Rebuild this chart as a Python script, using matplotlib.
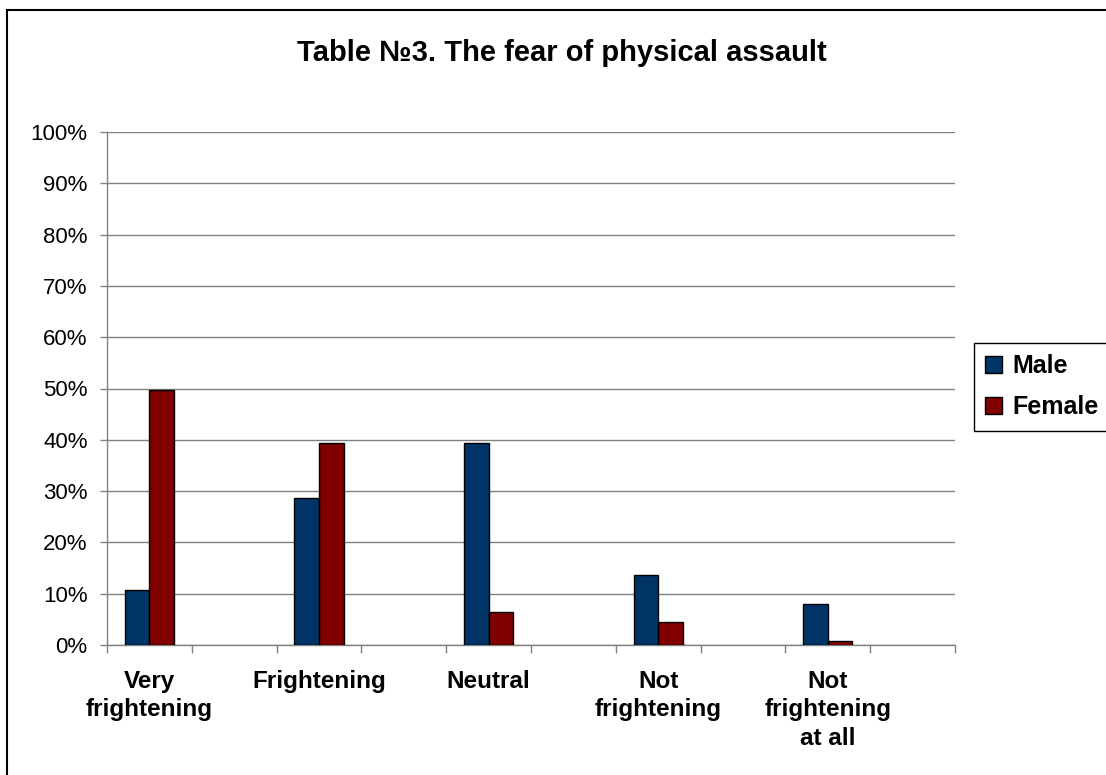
import matplotlib
matplotlib.use("Agg")
import matplotlib.pyplot as plt
import matplotlib.patches as mpatches
import numpy as np

plt.rcParams['font.family'] = ['Liberation Sans', 'DejaVu Sans']

categories = ["Very\nfrightening", "Frightening", "Neutral",
              "Not\nfrightening", "Not\nfrightening\nat all"]
male = [10.8, 28.7, 39.4, 13.7, 8.0]
female = [49.7, 39.4, 6.5, 4.4, 0.8]
yticks = np.arange(0, 101, 10)

male_color = "#003366"
female_color = "#800000"
grid_color = "#808080"

fig = plt.figure(figsize=(11.06, 7.75), dpi=100)
ax = fig.add_axes([107 / 1106, 130 / 775, 848 / 1106, 513 / 775])

# every category sits in every other slot of a 10-slot axis
pos = np.arange(len(categories)) * 2 + 0.5
w = 0.29
ax.bar(pos - w / 2, male, w, color=male_color, edgecolor="black", linewidth=1, zorder=3)
ax.bar(pos + w / 2, female, w, color=female_color, edgecolor="black", linewidth=1, zorder=3)

ax.set_xlim(0, 10)
ax.set_ylim(0, 100)
ax.set_yticks(yticks)
ax.set_yticklabels([f"{v}%" for v in yticks], fontsize=16)
ax.yaxis.grid(True, color=grid_color, linewidth=1)
ax.set_axisbelow(True)

ax.set_xticks(np.arange(0, 11))
ax.set_xticklabels([])
ax.set_xticks(pos, minor=True)
ax.set_xticklabels(categories, minor=True, fontsize=17.5, fontweight="bold", linespacing=1.3)
ax.tick_params(axis="x", which="minor", length=0, pad=18)
ax.tick_params(axis="x", which="major", length=6, color=grid_color, width=1)
ax.tick_params(axis="y", length=5, color=grid_color, width=1, pad=9)

for s in ["top", "right"]:
    ax.spines[s].set_visible(False)
for s in ["left", "bottom"]:
    ax.spines[s].set_color(grid_color)
    ax.spines[s].set_linewidth(1)

fig.text(562 / 1106, 1 - 53 / 775, "Table №3. The fear of physical assault",
         ha="center", va="center", fontsize=21, fontweight="bold")

handles = [mpatches.Patch(facecolor=male_color, edgecolor="black", label="Male"),
           mpatches.Patch(facecolor=female_color, edgecolor="black", label="Female")]
leg = fig.legend(handles=handles, loc="center left",
                 bbox_to_anchor=(974 / 1106, 1 - 387 / 775),
                 prop={"size": 18, "weight": "bold"}, frameon=True, fancybox=False,
                 edgecolor="black", framealpha=1, borderaxespad=0,
                 handlelength=0.65, handleheight=0.65, handletextpad=0.45,
                 labelspacing=0.68, borderpad=0.45)
leg.get_frame().set_linewidth(1)

border = mpatches.Rectangle((7 / 1106, -0.1), 1.2, 1 - 10 / 775 + 0.1,
                            transform=fig.transFigure, fill=False,
                            edgecolor="black", linewidth=1.5)
fig.patches.append(border)

fig.savefig("out.png", dpi=100)
